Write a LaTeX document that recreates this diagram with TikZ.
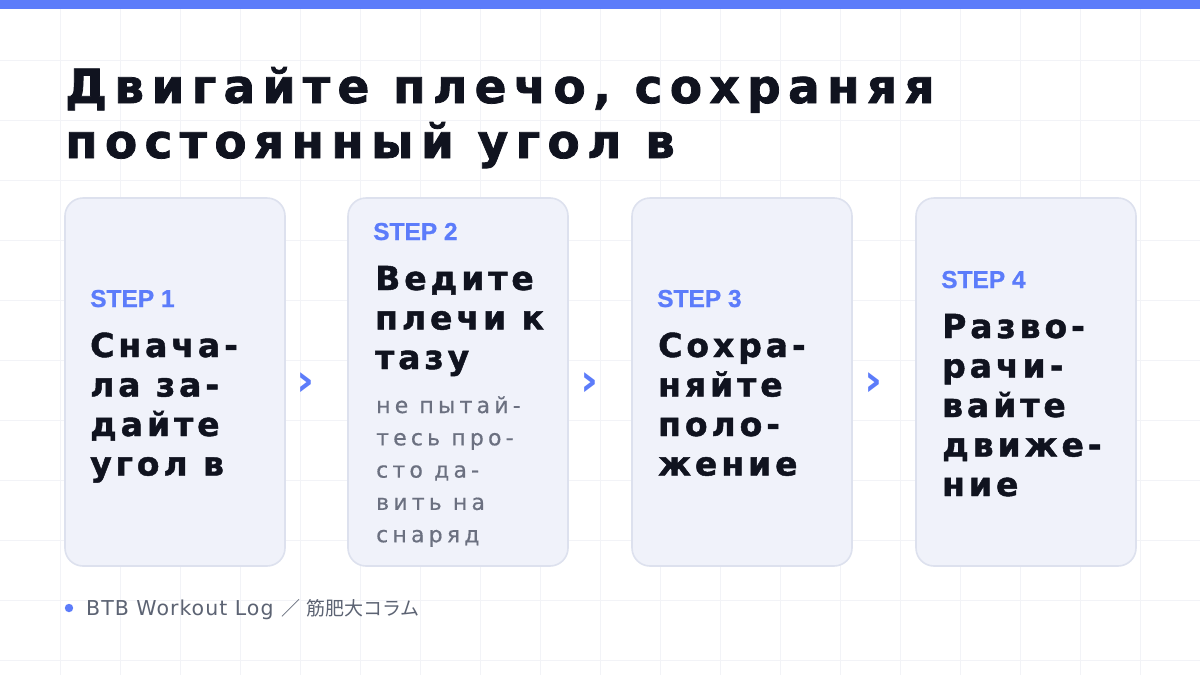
\documentclass[tikz,border=0pt]{standalone}
\usepackage{fontspec}
\setmainfont{DejaVu Sans}
\newfontfamily\ttlfont[LetterSpace=15.6, FakeBold=1.6]{DejaVu Sans Bold}
\newfontfamily\cardfont[LetterSpace=12, FakeBold=1.4]{DejaVu Sans Bold}
\newfontfamily\subfont[LetterSpace=19, FakeBold=0.5]{DejaVu Sans}
\newfontfamily\stepfont[FakeBold=0.8]{Liberation Sans Bold}
\newfontfamily\footfont[LetterSpace=5]{DejaVu Sans}
\newfontfamily\footcjk{Noto Sans CJK JP}
\newfontfamily\arrowfont{DejaVu Sans Bold}
\definecolor{accent}{HTML}{5C7CFA}
\definecolor{ink}{HTML}{10131F}
\definecolor{subgrey}{HTML}{6B7080}
\definecolor{footgrey}{HTML}{5C6373}
\definecolor{cardfill}{HTML}{F0F2FA}
\definecolor{cardline}{HTML}{DDE1EE}
\definecolor{gridc}{HTML}{F2F3F7}
\tikzset{
  card/.style={draw=cardline, line width=1.6pt, fill=cardfill, rounded corners=18pt,
    minimum width=220pt, minimum height=368pt, inner sep=0pt},
  gridline/.style={draw=gridc, line width=0.8pt},
  ttl/.style={anchor=base west, inner sep=0pt, text=ink, font=\ttlfont\fontsize{47}{54}\selectfont},
  steplbl/.style={anchor=base west, inner sep=0pt, text=accent, font=\stepfont\fontsize{24.5}{28}\selectfont},
  cardtxt/.style={anchor=base west, inner sep=0pt, text=ink, font=\cardfont\fontsize{33}{40}\selectfont},
  subtxt/.style={anchor=base west, inner sep=0pt, text=subgrey, font=\subfont\fontsize{22}{28}\selectfont},
  chev/.style={inner sep=0pt, text=accent, font=\arrowfont\fontsize{44}{44}\selectfont},
  foot/.style={anchor=base west, inner sep=0pt, text=footgrey, font=\footfont\fontsize{20.5}{24}\selectfont}
}
\begin{document}
\begin{tikzpicture}[x=1pt,y=-1pt]
\useasboundingbox (0,0) rectangle (1200,675);
\fill[white] (0,0) rectangle (1200,675);
\foreach \k in {60,120,...,1140} \draw[gridline] (\k,9) -- (\k,675);
\foreach \k in {60,120,...,660} \draw[gridline] (0,\k) -- (1200,\k);
\fill[accent] (0,0) rectangle (1200,9);
% title
\node[ttl] (t1) at (65,103) {Двигайте плечо, сохраняя};
\node[ttl] (t2) at (65,158) {постоянный угол в};
% cards
\node[card] (c1) at (175,382) {};
\node[card] (c2) at (458,382) {};
\node[card] (c3) at (742,382) {};
\node[card] (c4) at (1026,382) {};
% arrows
\node[chev] (a1) at (306,384) {›};
\node[chev] (a2) at (590,384) {›};
\node[chev] (a3) at (874,384) {›};
% card 1
\node[steplbl] (s1) at (90,307) {STEP 1};
\foreach \t [count=\i] in {Снача-, ла за-, дайте, угол в}
  \node[cardtxt] (c1l\i) at (90,{357+39.5*(\i-1)}) {\t};
% card 2
\node[steplbl] (s2) at (373,240) {STEP 2};
\foreach \t [count=\i] in {Ведите, плечи к, тазу}
  \node[cardtxt] (c2l\i) at (375,{290+39.5*(\i-1)}) {\t};
\foreach \t [count=\i] in {не пытай-, тесь про-, сто да-, вить на, снаряд}
  \node[subtxt] (c2s\i) at (376,{413+32.3*(\i-1)}) {\t};
% card 3
\node[steplbl] (s3) at (657,307) {STEP 3};
\foreach \t [count=\i] in {Сохра-, няйте, поло-, жение}
  \node[cardtxt] (c3l\i) at (658,{357+39.5*(\i-1)}) {\t};
% card 4
\node[steplbl] (s4) at (941,288) {STEP 4};
\foreach \t [count=\i] in {Разво-, рачи-, вайте, движе-, ние}
  \node[cardtxt] (c4l\i) at (942,{338+39.5*(\i-1)}) {\t};
% footer
\fill[accent] (69,608) circle (4.2pt) coordinate (dot);
\node[foot] (ft) at (86,615) {BTB Workout Log {\footcjk\fontsize{19}{24}\selectfont ／\hspace{6pt}筋肥大コラム}};
\end{tikzpicture}
\end{document}
